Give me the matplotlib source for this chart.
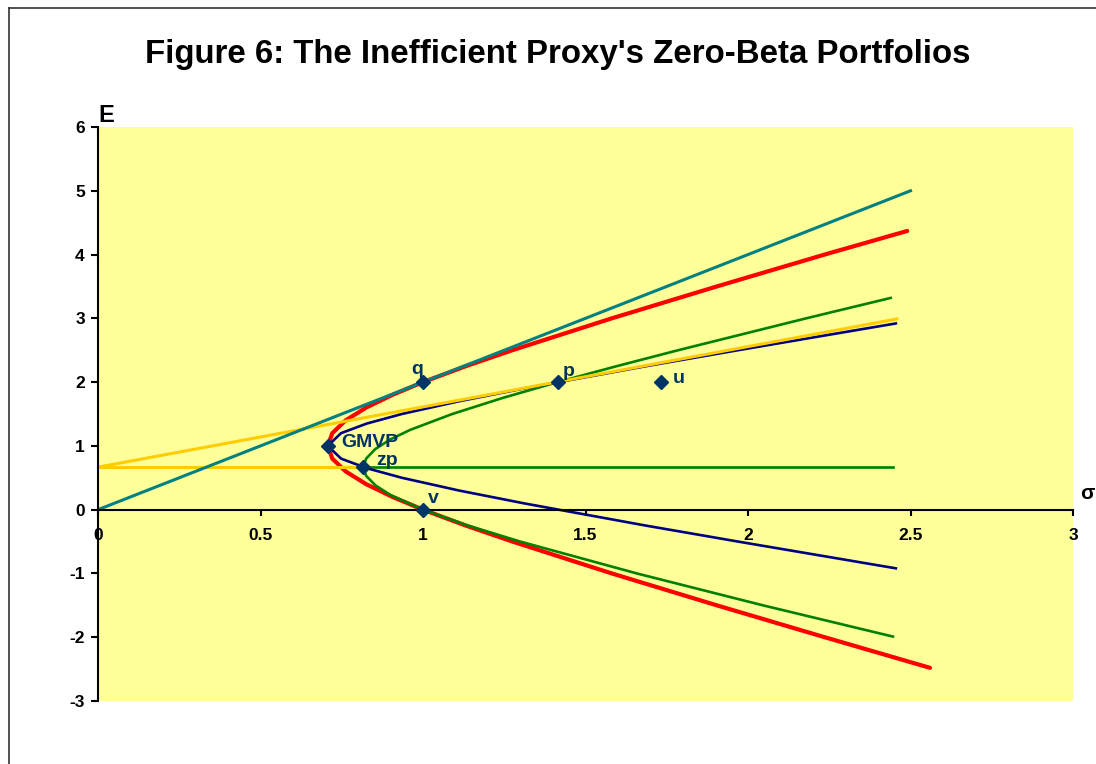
import matplotlib
matplotlib.use("Agg")
import matplotlib.pyplot as plt
from matplotlib.lines import Line2D

plt.rcParams['font.family'] = ['Liberation Sans', 'DejaVu Sans']
plt.rcParams['axes.unicode_minus'] = False

# data (sigma, E)
red_E = [4.37, 4.0, 3.5, 3.0, 2.5, 2.25, 2.0, 1.8, 1.6, 1.4, 1.2, 1.0, 0.8, 0.6, 0.4, 0.2, 0.0,
         -0.25, -0.5, -1.0, -1.5, -2.0, -2.48]
red_sigma = [2.49, 2.236, 1.904, 1.581, 1.275, 1.132, 1.0, 0.906, 0.825, 0.762, 0.721, 0.707,
             0.721, 0.762, 0.825, 0.906, 1.0, 1.132, 1.275, 1.581, 1.904, 2.236, 2.56]

green_E = [3.32, 3.0, 2.5, 2.25, 2.0, 1.75, 1.5, 1.25, 1.1, 0.95, 0.8, 0.667, 0.53, 0.38, 0.23,
           0.0, -0.25, -0.5, -1.0, -1.5, -1.99]
green_sigma = [2.439, 2.179, 1.785, 1.596, 1.414, 1.244, 1.090, 0.960, 0.899, 0.853, 0.825, 0.816,
               0.825, 0.854, 0.900, 1.0, 1.139, 1.299, 1.658, 2.046, 2.446]

navy_E = [2.92, 2.5, 2.25, 1.9, 1.7, 1.5, 1.35, 1.2, 1.0, 0.8, 0.65, 0.5, 0.3, 0.1, -0.25, -0.5,
          -0.92]
navy_sigma = [2.455, 1.969, 1.686, 1.310, 1.111, 0.935, 0.827, 0.748, 0.707, 0.748, 0.827, 0.935,
              1.111, 1.310, 1.686, 1.969, 2.455]

teal_sigma = [0.0, 2.5]
teal_E = [0.0, 5.0]

yellow_sigma = [0.0, 2.458]
yellow_E = [0.667, 2.99]

yellow_flat_sigma = [0.0, 0.816]
yellow_flat_E = [0.667, 0.667]

green_flat_sigma = [0.816, 2.446]
green_flat_E = [0.667, 0.667]

pt_names = ['q', 'p', 'u', 'GMVP', 'zp', 'v']
pt_sigma = [1.0, 1.414, 1.732, 0.707, 0.816, 1.0]
pt_E = [2.0, 2.0, 2.0, 1.0, 0.667, 0.0]
pt_offsets = {'q': (-8.6, 5.8), 'p': (3.6, 4.3), 'u': (8.6, -0.7), 'GMVP': (10, -0.7),
              'zp': (9.4, 1.4), 'v': (3.6, 5.0)}

fig = plt.figure(figsize=(10.96, 7.64), dpi=100)
ax = fig.add_axes([98/1096, 1 - 701/764, 975/1096, 574/764])
ax.set_facecolor('#FFFF99')

ax.plot(red_sigma, red_E, color='#FF0000', lw=3.0, solid_capstyle='round')
ax.plot(green_sigma, green_E, color='#008000', lw=1.9)
ax.plot(green_flat_sigma, green_flat_E, color='#008000', lw=1.9)
ax.plot(navy_sigma, navy_E, color='#000080', lw=1.9)
ax.plot(yellow_sigma, yellow_E, color='#FFCC00', lw=2.2)
ax.plot(yellow_flat_sigma, yellow_flat_E, color='#FFCC00', lw=2.2)
ax.plot(teal_sigma, teal_E, color='#008080', lw=2.2)

ax.plot(pt_sigma, pt_E, 'D', color='#003366', ms=7.5, zorder=5, linestyle='none')
for name, s, e in zip(pt_names, pt_sigma, pt_E):
    ax.annotate(name, (s, e), xytext=pt_offsets[name], textcoords='offset points',
                ha='left', va='baseline', fontsize=14, fontweight='bold', color='#003366', zorder=6)

ax.set_xlim(0, 3)
ax.set_ylim(-3, 6)
ax.spines['top'].set_visible(False)
ax.spines['right'].set_visible(False)
ax.spines['bottom'].set_position(('data', 0))
ax.spines['left'].set_linewidth(1.5)
ax.spines['bottom'].set_linewidth(1.5)
ax.set_xticks([0, 0.5, 1, 1.5, 2, 2.5, 3])
ax.set_xticklabels(['0', '0.5', '1', '1.5', '2', '2.5', '3'])
ax.set_yticks(range(-3, 7))
ax.tick_params(axis='x', direction='out', length=4, width=1.5, pad=9, labelsize=12.5)
ax.tick_params(axis='y', direction='out', length=5, width=1.5, pad=4.5, labelsize=12.5)
for lab in ax.get_xticklabels() + ax.get_yticklabels():
    lab.set_fontweight('bold')

ax.text(0, 6, 'E', transform=ax.transData, ha='left', va='bottom', fontsize=17,
        fontweight='bold')
ax.annotate('σ', (3, 0), xytext=(5, 8), textcoords='offset points', ha='left',
            va='baseline', fontsize=15, fontweight='bold', annotation_clip=False)

fig.text(0.509, 1 - 63/764, "Figure 6: The Inefficient Proxy's Zero-Beta Portfolios",
         ha='center', va='baseline', fontsize=23.8, fontweight='bold')

# chart frame (only left and top edges visible)
fig.add_artist(Line2D([9/1096, 9/1096], [0, 1 - 8/764], transform=fig.transFigure,
                      color='#333333', lw=1.2))
fig.add_artist(Line2D([9/1096, 1], [1 - 8/764, 1 - 8/764], transform=fig.transFigure,
                      color='#333333', lw=1.2))

fig.savefig('out.png', dpi=100)
